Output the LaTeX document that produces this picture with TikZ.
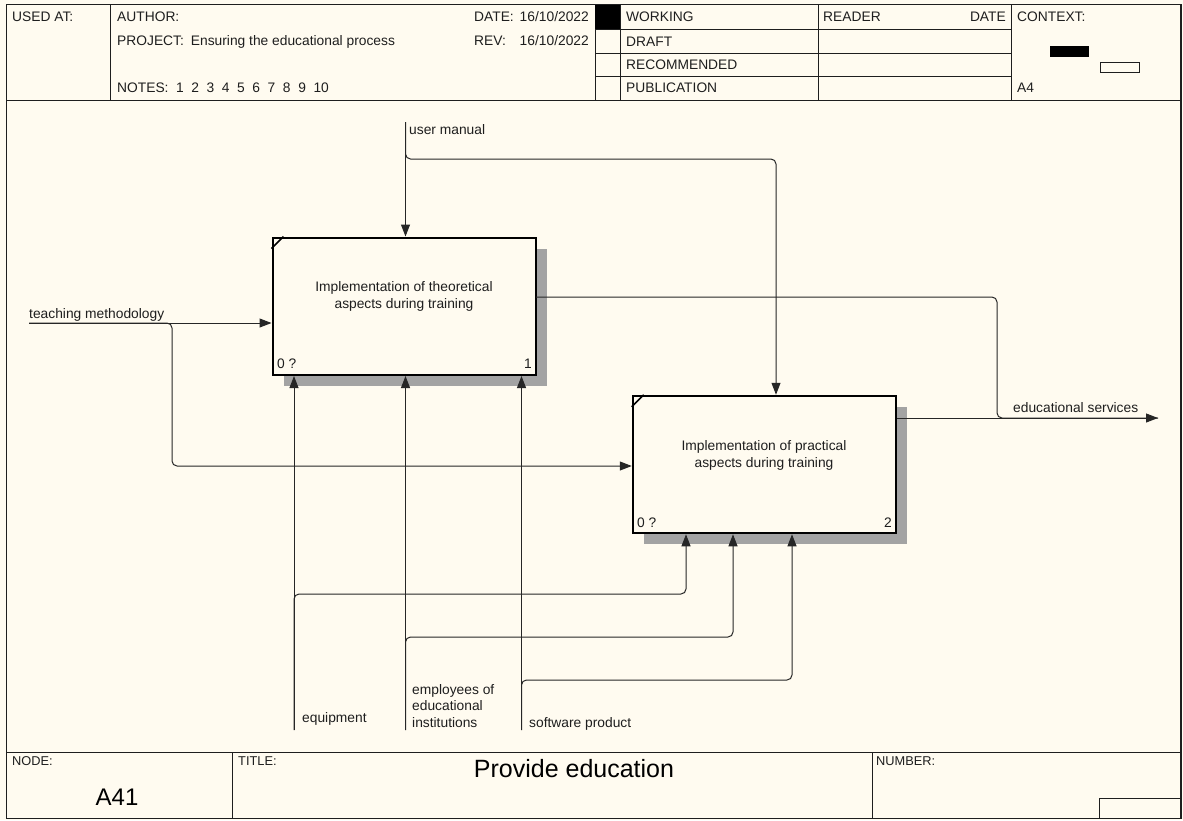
\documentclass[tikz,border=0pt]{standalone}
\usepackage{fontspec}
\setmainfont{Liberation Sans}
\usetikzlibrary{arrows.meta,calc}
\definecolor{cream}{RGB}{255,251,240}
\definecolor{ink}{RGB}{30,30,30}
\begin{document}
\begin{tikzpicture}[x=1pt,y=-1pt,
  lbl/.style={font=\fontsize{13.8}{15}\selectfont, inner sep=0pt, anchor=base west, text=ink},
  lblr/.style={lbl, anchor=base east},
  small/.style={font=\fontsize{12.8}{14}\selectfont, inner sep=0pt, anchor=base west, text=ink},
  big/.style={font=\fontsize{25}{28}\selectfont, inner sep=0pt, anchor=base, text=black},
  boxst/.style={draw=black, line width=2pt, fill=cream, minimum width=263.5pt, minimum height=137.5pt, inner sep=0pt},
  boxtxt/.style={font=\fontsize{13.8}{17}\selectfont, inner sep=0pt, align=center, text=ink},
  shadow/.style={fill=black!36},
  grid/.style={draw=ink, line width=0.9pt},
  conn/.style={draw=black!85, line width=1pt, rounded corners=5pt},
  arr/.style={conn, -{Triangle[length=12pt,width=9pt]}}
]
\useasboundingbox (0,0) rectangle (1183,820);
\fill[cream] (0,0) rectangle (1183,820);
% ---------- frame ----------
\draw[grid, line width=1.6pt] (6.5,4.5) rectangle (1181,818.5);
\draw[grid] (6.5,100.5) -- (1181,100.5);
\draw[grid] (6.5,752) -- (1181,752);
% header verticals
\draw[grid] (110,4.5) -- (110,100.5);
\draw[grid] (595,4.5) -- (595,100.5);
\draw[grid] (620,4.5) -- (620,100.5);
\draw[grid] (818,4.5) -- (818,100.5);
\draw[grid] (1011,4.5) -- (1011,100.5);
\draw[grid] (595,29) -- (1011,29);
\draw[grid] (595,53) -- (1011,53);
\draw[grid] (595,76) -- (1011,76);
\fill[black] (595,4.5) rectangle (620,29);
\fill[black] (1050,46) rectangle (1089,57);
\draw[grid] (1100,62) rectangle (1139,72);
% footer verticals
\draw[grid] (232,752) -- (232,818.5);
\draw[grid] (872,752) -- (872,818.5);
\draw[grid] (1099,798) rectangle (1181,818.5);
% ---------- header texts ----------
\node[lbl] (usedat) at (12,21) {USED AT:};
\node[lbl] (author) at (117,21) {AUTHOR:};
\node[lbl] (date) at (474,21) {DATE:};
\node[lblr] (dateval) at (589,21) {16/10/2022};
\node[lbl] (project) at (117,45) {PROJECT:\hspace{7pt}Ensuring the educational process};
\node[lbl] (rev) at (474,45) {REV:};
\node[lblr] (revval) at (589,45) {16/10/2022};
\node[lbl] (notes) at (117,92) {NOTES:\hspace{7.5pt}1\hspace{7.6pt}2\hspace{7.6pt}3\hspace{7.6pt}4\hspace{7.6pt}5\hspace{7.6pt}6\hspace{7.6pt}7\hspace{7.6pt}8\hspace{7.6pt}9\hspace{7.6pt}10};
\node[lbl] (working) at (626,21) {WORKING};
\node[lbl] (draft) at (626,46) {DRAFT};
\node[lbl] (recom) at (626,69) {RECOMMENDED};
\node[lbl] (publ) at (626,92) {PUBLICATION};
\node[lbl] (reader) at (823,21) {READER};
\node[lblr] (rdate) at (1006,21) {DATE};
\node[lbl] (context) at (1017,21) {CONTEXT:};
\node[lbl] (a4) at (1017,92) {A4};
% ---------- footer texts ----------
\node[small] (nodelbl) at (12,765) {NODE:};
\node[small] (titlelbl) at (238,765) {TITLE:};
\node[small] (numlbl) at (876,765) {NUMBER:};
\node[big, font=\fontsize{24}{26}\selectfont] (a41) at (117,805) {A41};
\node[big] (title) at (574,777) {Provide education};
% ---------- boxes ----------
\fill[shadow] (283.5,248.5) rectangle (547,386);
\fill[shadow] (644,407) rectangle (907,544);
\node[boxst] (b1) at (404.25,306.25) {};
\node[boxst] (b2) at (764.5,464.5) {};
\draw[line width=1.5pt] ($(b1.north west)+(0,12)$) -- ($(b1.north west)+(12,0)$);
\draw[line width=1.5pt] ($(b2.north west)+(0,12)$) -- ($(b2.north west)+(12,0)$);
\node[boxtxt] (b1t) at (404,296) {Implementation of theoretical\\aspects during training};
\node[boxtxt] (b2t) at (764,455) {Implementation of practical\\aspects during training};
\node[lbl] (b1c) at (277,368) {0 ?};
\node[lblr] (b1n) at (532,368) {1};
\node[lbl] (b2c) at (637,527) {0 ?};
\node[lblr] (b2n) at (892,527) {2};
% ---------- connectors ----------
\coordinate (um) at (405.5,122);
\coordinate (umturn) at (776,159);
\draw[arr] (um) -- (um |- b1.north);
\draw[arr] (um) |- (umturn) -- (umturn |- b2.north);
\node[lbl] (umlbl) at (409,134) {user manual};

\coordinate (tm) at (29,323);
\coordinate (tmturn) at (172,466);
\draw[arr] (tm) -- (tm -| b1.west);
\draw[arr] (tm) -| (tmturn) -- (tmturn -| b2.west);
\node[lbl] (tmlbl) at (29,318) {teaching methodology};

\coordinate (o1) at (536,297);
\coordinate (o1turn) at (997,418);
\coordinate (es) at (1158,418);
\draw[conn] (o1) -| (o1turn) -- (es);
\draw[arr] (b2.east |- es) -- (es);
\node[lbl] (eslbl) at (1013,412) {educational services};

\coordinate (eq) at (294,730);
\coordinate (eqturn) at (686,594);
\draw[arr] (eq) -- (eq |- b1.south);
\draw[arr] (eq) |- (eqturn) -- (eqturn |- b2.south);
\node[lbl] (eqlbl) at (302,722) {equipment};

\coordinate (em) at (405.5,730);
\coordinate (emturn) at (733,637);
\draw[arr] (em) -- (em |- b1.south);
\draw[arr] (em) |- (emturn) -- (emturn |- b2.south);
\node[lbl, align=left, font=\fontsize{13.8}{16.5}\selectfont, anchor=north west] (emlbl) at (412,684) {employees of\\educational\\institutions};

\coordinate (sw) at (521.5,730);
\coordinate (swturn) at (792,680);
\draw[arr] (sw) -- (sw |- b1.south);
\draw[arr] (sw) |- (swturn) -- (swturn |- b2.south);
\node[lbl] (swlbl) at (529,727) {software product};
\end{tikzpicture}
\end{document}
